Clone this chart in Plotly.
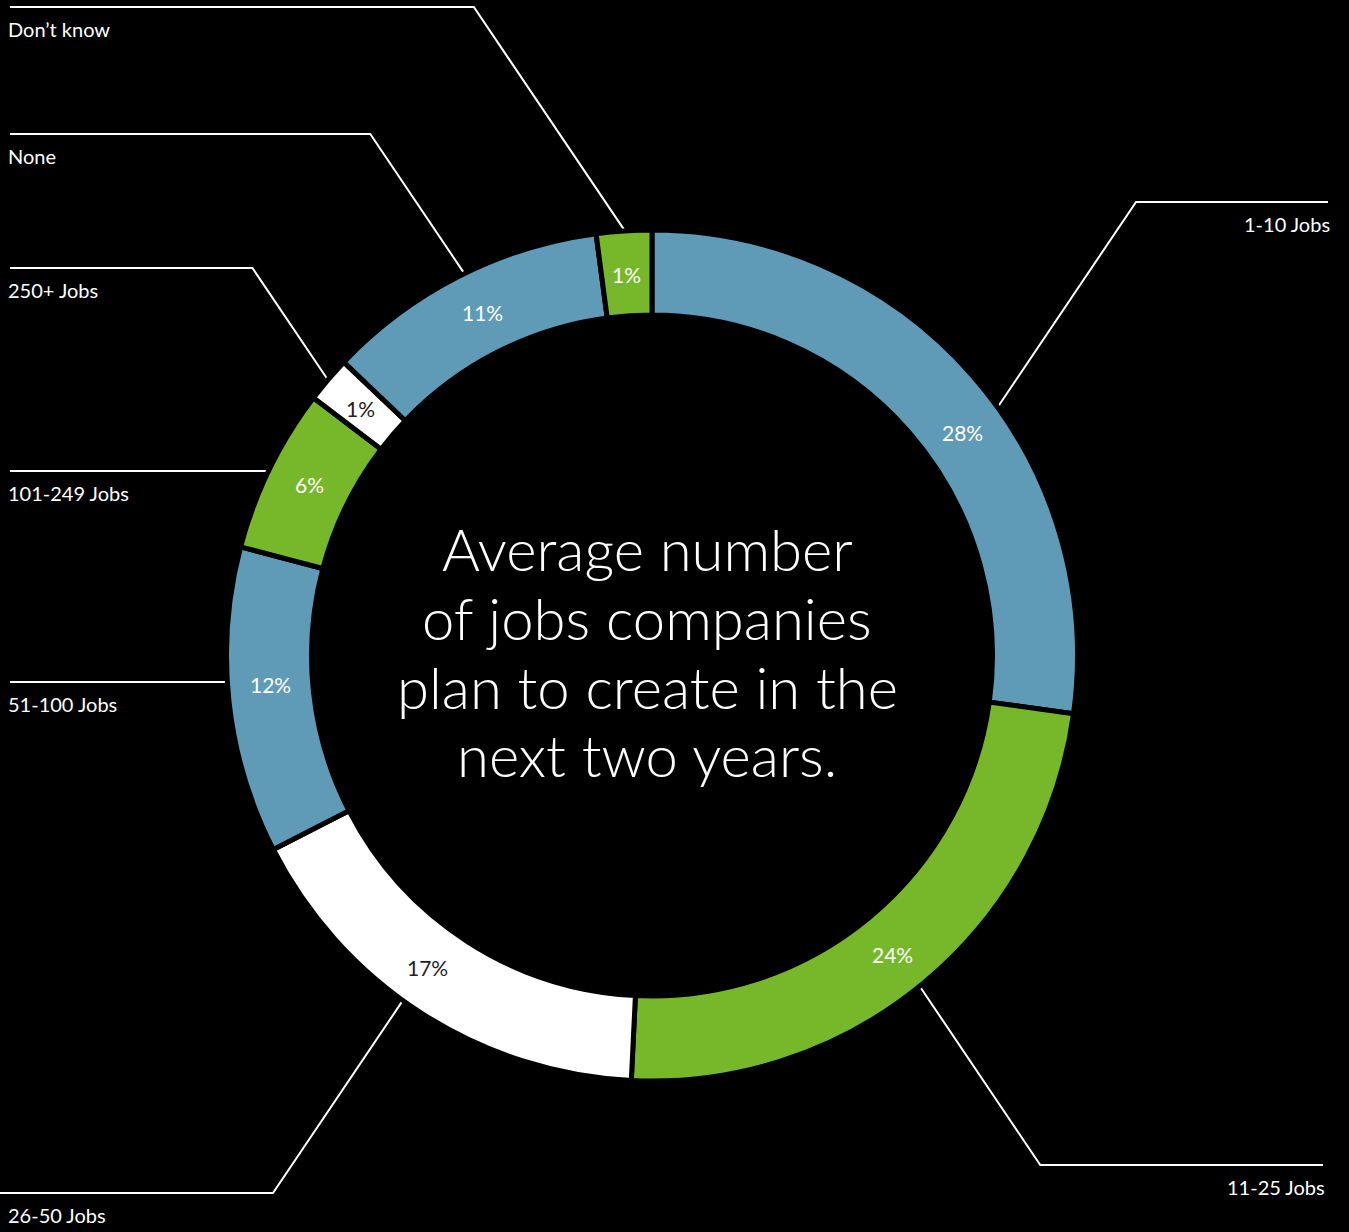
import math
import plotly.graph_objects as go

# ---------------- data ----------------
categories = ["1-10 Jobs", "11-25 Jobs", "26-50 Jobs", "51-100 Jobs",
              "101-249 Jobs", "250+ Jobs", "None", "Don\u2019t know"]
# printed percentages
pct_labels = [28, 24, 17, 12, 6, 1, 11, 1]
arc_shares = [27.2, 23.6, 16.7, 11.65, 6.25, 1.75, 10.8, 2.1]
title_lines = ["Average number", "of jobs companies",
               "plan to create in the", "next two years."]

# ---------------- styles / layout ----------------
BLUE, GREEN, WHITE, DARK = "#5f9bb7", "#77b82a", "#ffffff", "#222222"
slice_colors = [BLUE, GREEN, WHITE, BLUE, GREEN, WHITE, BLUE, GREEN]
pct_colors = [WHITE if c != WHITE else DARK for c in slice_colors]

W, H = 1349, 1232
CX, CY = 652, 655.5          # pie centre (px)
R_OUT, R_IN = 423, 343       # visible ring radii (px)
GAP = 5                      # black separator width
FONT = "Lato"

# label placement: side, y of horizontal rule, x of its far end, leader kind, angle nudge (deg)
label_layout = {
    "1-10 Jobs":    ("right", 202, 1328, "diag", 5.3),
    "11-25 Jobs":   ("right", 1165, 1323, "diag", 0.7),
    "26-50 Jobs":   ("left", 1193, 0, "diag", 3.0),
    "51-100 Jobs":  ("left", 682, 10, "flat", 2.0),
    "101-249 Jobs": ("left", 471, 10, "flat", 0.6),
    "250+ Jobs":    ("left", 268, 10, "diag", 0.0),
    "None":         ("left", 134, 10, "diag", 0.8),
    "Don\u2019t know": ("left", 7, 10, "diag", 0.0),
}
LEADER_SLOPE = math.tan(math.radians(56))
title_baselines = [573, 642, 711, 779]
TITLE_SIZE = 58

# ---------------- figure ----------------
R_DOM = R_OUT + GAP / 2
fig = go.Figure()
fig.add_trace(go.Pie(
    labels=categories, values=arc_shares, sort=False, direction="clockwise",
    rotation=0, hole=(R_IN - GAP / 2) / R_DOM,
    marker=dict(colors=slice_colors, line=dict(color="#000000", width=GAP)),
    textinfo="none", hoverinfo="skip", showlegend=False,
    domain=dict(x=[(CX - R_DOM) / W, (CX + R_DOM) / W],
                y=[(H - CY - R_DOM) / H, (H - CY + R_DOM) / H]),
))

total = sum(arc_shares)
xs, ys = [], []
annotations = []
cum = 0
R_MID = (R_OUT + R_IN) / 2
for cat, v, pct, pc in zip(categories, arc_shares, pct_labels, pct_colors):
    side, ly, lx_end, kind, nudge = label_layout[cat]
    mid = math.radians((cum + v / 2) / total * 360 + nudge)
    cum += v
    # percentage label inside the ring
    annotations.append(dict(
        x=CX + R_MID * math.sin(mid), y=CY - R_MID * math.cos(mid) + 1,
        xref="x", yref="y", text=f"{pct}%", showarrow=False,
        xanchor="center", yanchor="middle",
        font=dict(family=FONT, size=21, color=pc)))
    # leader line
    r0 = R_OUT + 4
    sgn = 1 if side == "right" else -1
    if kind == "flat":
        dy = ly - CY
        sx = CX + sgn * math.sqrt(r0 ** 2 - dy ** 2)
        xs += [sx, lx_end, None]
        ys += [ly, ly, None]
    else:
        sx = CX + r0 * math.sin(mid)
        sy = CY - r0 * math.cos(mid)
        ex = sx + sgn * abs(sy - ly) / LEADER_SLOPE
        xs += [sx, ex, lx_end, None]
        ys += [sy, ly, ly, None]
    annotations.append(dict(
        x=6 if side == "left" else lx_end + 4, y=ly + 22,
        xref="x", yref="y", text=cat, showarrow=False,
        xanchor="left" if side == "left" else "right", yanchor="middle",
        font=dict(family=FONT, size=20, color=WHITE)))

fig.add_trace(go.Scatter(x=xs, y=ys, mode="lines",
                         line=dict(color=WHITE, width=2),
                         hoverinfo="skip", showlegend=False, cliponaxis=False))

for line, base in zip(title_lines, title_baselines):
    annotations.append(dict(
        x=647, y=base - 0.42 * TITLE_SIZE, xref="x", yref="y", text=line,
        showarrow=False, xanchor="center", yanchor="middle",
        font=dict(family=FONT, size=TITLE_SIZE, color=WHITE, weight=300)))

fig.update_layout(
    width=W, height=H, margin=dict(l=0, r=0, t=0, b=0),
    paper_bgcolor="#000000", plot_bgcolor="#000000",
    xaxis=dict(range=[0, W], visible=False, fixedrange=True, domain=[0, 1]),
    yaxis=dict(range=[H, 0], visible=False, fixedrange=True, domain=[0, 1]),
    annotations=annotations,
)

fig.write_html("out.html")
